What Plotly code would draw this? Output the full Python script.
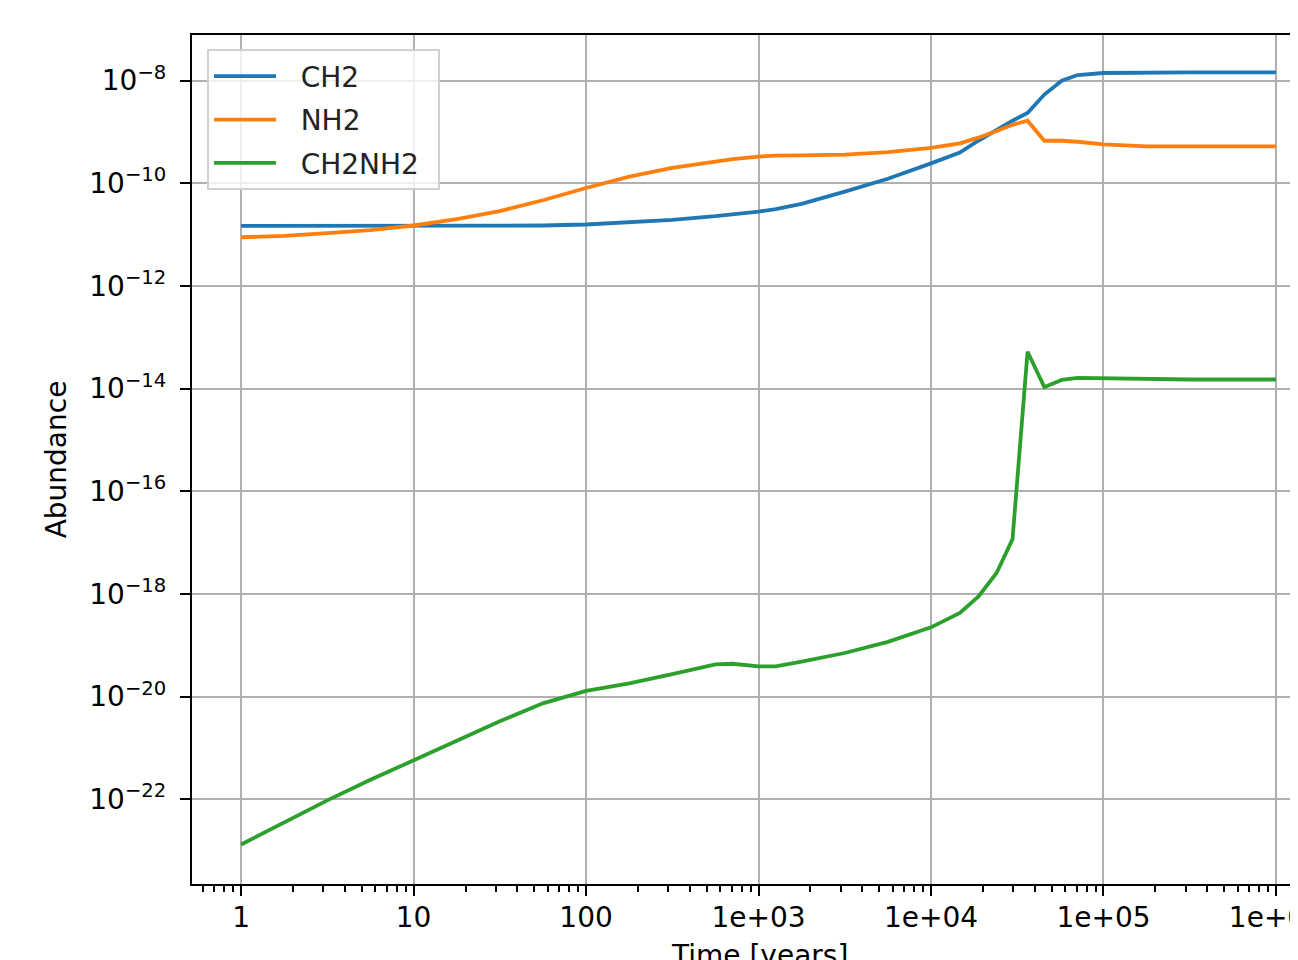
import plotly.graph_objects as go

# ---- data ----
time_years = [1, 1.78, 3.16, 5.62, 10, 17.8, 31.6, 56.2, 100, 178, 316, 562, 708,
              1000, 1259, 1778, 3162, 5623, 1.0e4, 1.47e4, 1.88e4, 2.40e4, 2.97e4,
              3.63e4, 4.54e4, 5.73e4, 7.08e4, 1.0e5, 1.78e5, 3.16e5, 5.62e5, 1.0e6]

ch2 = [1.48e-11, 1.48e-11, 1.48e-11, 1.48e-11, 1.48e-11, 1.48e-11, 1.50e-11, 1.51e-11,
       1.58e-11, 1.74e-11, 1.95e-11, 2.29e-11, 2.45e-11, 2.82e-11, 3.16e-11, 3.98e-11,
       6.9e-11, 1.23e-10, 2.45e-10, 3.98e-10, 6.76e-10, 1.10e-9, 1.66e-9, 2.34e-9,
       5.37e-9, 1.0e-8, 1.29e-8, 1.41e-8, 1.45e-8, 1.45e-8, 1.45e-8, 1.45e-8]

nh2 = [8.9e-12, 9.5e-12, 1.07e-11, 1.23e-11, 1.51e-11, 2.0e-11, 2.88e-11, 4.68e-11,
       8.1e-11, 1.35e-10, 2.0e-10, 2.69e-10, 2.95e-10, 3.31e-10, 3.47e-10, 3.5e-10,
       3.63e-10, 4.07e-10, 4.9e-10, 6.03e-10, 7.76e-10, 1.05e-9, 1.38e-9, 1.66e-9,
       6.76e-10, 6.76e-10, 6.46e-10, 5.75e-10, 5.25e-10, 5.25e-10, 5.25e-10, 5.25e-10]

ch2nh2 = [1.32e-23, 3.55e-23, 9.55e-23, 2.4e-22, 5.89e-22, 1.38e-21, 3.31e-21, 7.41e-21,
          1.29e-20, 1.82e-20, 2.75e-20, 4.27e-20, 4.37e-20, 3.89e-20, 3.89e-20, 4.79e-20,
          7.08e-20, 1.17e-19, 2.24e-19, 4.27e-19, 8.9e-19, 2.57e-18, 1.17e-17, 5.25e-14,
          1.07e-14, 1.48e-14, 1.62e-14, 1.58e-14, 1.55e-14, 1.51e-14, 1.51e-14, 1.51e-14]

series_names = ["CH2", "NH2", "CH2NH2"]
series_colors = ["#1f77b4", "#ff7f0e", "#2ca02c"]

x_tickvals = [1, 10, 100, 1e3, 1e4, 1e5, 1e6]
x_ticktext = ["1", "10", "100", "1e+03", "1e+04", "1e+05", "1e+06"]
y_exponents = [-8, -10, -12, -14, -16, -18, -20, -22]
y_tickvals = [10.0 ** e for e in y_exponents]
y_ticktext = ["10<sup>\u2212%d</sup>" % (-e) for e in y_exponents]

FONT = "DejaVu Sans"
FS = 28

fig = go.Figure()
for name, ys, col in zip(series_names, [ch2, nh2, ch2nh2], series_colors):
    fig.add_trace(go.Scatter(x=time_years, y=ys, mode="lines",
                             name="\u2002\u2009" + name + "\u2002",
                             legendgroup=name,
                             line=dict(color=col, width=3.8)))

# page body has an 8px margin: the figure is shrunk so the photographed window matches
fig.update_layout(
    width=1290, height=952,
    margin=dict(l=184, r=0, t=27, b=76, autoexpand=False),
    paper_bgcolor="white", plot_bgcolor="white",
    font=dict(family=FONT, size=FS, color="black"),
    showlegend=True,
    legend=dict(x=0.0136, y=0.983, xanchor="left", yanchor="top",
                bgcolor="rgba(255,255,255,0.8)", bordercolor="#d0d0d0", borderwidth=2,
                font=dict(family=FONT, size=FS, color="#222222"),
                itemwidth=62, tracegroupgap=4),
    hovermode=False,
)

fig.update_xaxes(
    type="log", range=[-0.285, 6.128], automargin=False,
    tickvals=x_tickvals, ticktext=x_ticktext,
    ticks="outside", ticklen=10, tickwidth=2, tickcolor="black",
    showline=True, linecolor="black", linewidth=2.2, mirror=True,
    showgrid=True, gridcolor="#b0b0b0", gridwidth=2,
    zeroline=False, ticklabelstandoff=-3, ticklabeloverflow="allow",
    tickfont=dict(family=FONT, size=FS, color="black"),
    minor=dict(ticks="outside", ticklen=6, tickwidth=1.6, tickcolor="black",
               dtick="D1", showgrid=False),
)

fig.update_yaxes(
    type="log", range=[-23.65, -7.11], automargin=False,
    tickvals=y_tickvals, ticktext=y_ticktext,
    ticks="outside", ticklen=10, tickwidth=2, tickcolor="black",
    showline=True, linecolor="black", linewidth=2.2, mirror=False,
    showgrid=True, gridcolor="#b0b0b0", gridwidth=2,
    zeroline=False, ticklabelstandoff=8,
    tickfont=dict(family=FONT, size=FS, color="black"),
    title=dict(text="Abundance", font=dict(family=FONT, size=FS, color="black"), standoff=14),
)

fig.add_annotation(text="Time [years]", xref="paper", yref="paper",
                   x=0.5127, y=-0.0624, xanchor="center", yanchor="top",
                   showarrow=False, font=dict(family=FONT, size=FS, color="black"))

fig.write_html("out.html", config={"displayModeBar": False})
